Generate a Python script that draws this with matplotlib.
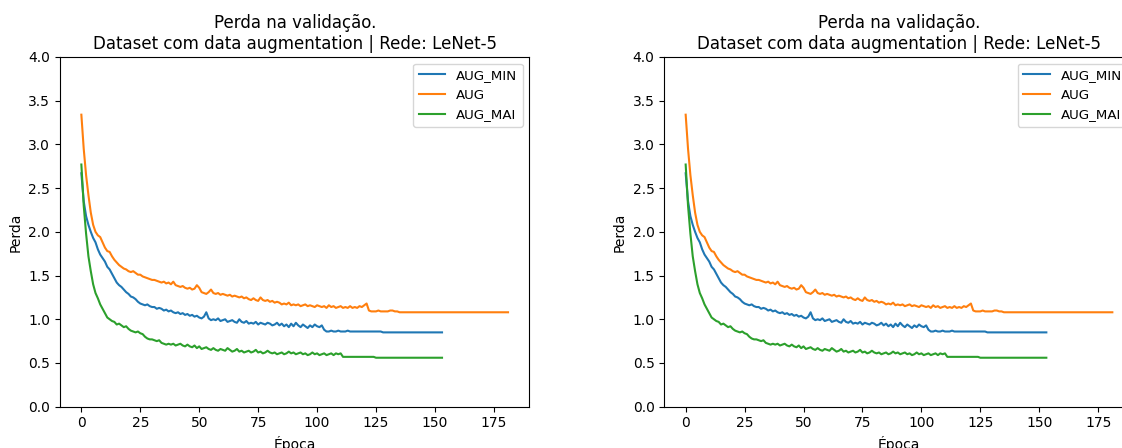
import numpy as np
import matplotlib.pyplot as plt

# validation loss per epoch, LeNet-5 trained on the augmented datasets
aug_min = [
    2.67, 2.35, 2.18, 2.08, 2.00, 1.93, 1.88, 1.80, 1.74, 1.70,
    1.66, 1.60, 1.57, 1.52, 1.47, 1.42, 1.39, 1.37, 1.34, 1.31,
    1.29, 1.26, 1.25, 1.23, 1.20, 1.18, 1.17, 1.16, 1.17, 1.15,
    1.14, 1.14, 1.12, 1.13, 1.12, 1.10, 1.11, 1.09, 1.10, 1.08,
    1.07, 1.08, 1.06, 1.07, 1.05, 1.06, 1.04, 1.05, 1.03, 1.04,
    1.02, 1.01, 1.03, 1.08, 1.01, 0.99, 1.00, 0.99, 1.01, 0.98,
    0.99, 1.00, 0.97, 0.98, 0.99, 0.97, 0.96, 1.00, 0.97, 0.96,
    0.98, 0.95, 0.96, 0.95, 0.97, 0.94, 0.96, 0.95, 0.94, 0.96,
    0.95, 0.93, 0.94, 0.96, 0.93, 0.95, 0.92, 0.94, 0.91, 0.95,
    0.92, 0.96, 0.93, 0.91, 0.94, 0.92, 0.90, 0.93, 0.91, 0.94,
    0.92, 0.91, 0.93, 0.88, 0.86, 0.86, 0.87, 0.86, 0.86, 0.87,
    0.86, 0.86, 0.86, 0.87, 0.86, 0.86, 0.86, 0.86, 0.86, 0.86,
    0.86, 0.86, 0.86, 0.86, 0.86, 0.86, 0.86, 0.86, 0.85, 0.85,
    0.85, 0.85, 0.85, 0.85, 0.85, 0.85, 0.85, 0.85, 0.85, 0.85,
    0.85, 0.85, 0.85, 0.85, 0.85, 0.85, 0.85, 0.85, 0.85, 0.85,
    0.85, 0.85, 0.85, 0.85,
]
aug = [
    3.34, 2.95, 2.65, 2.42, 2.22, 2.08, 2.00, 1.96, 1.94, 1.88,
    1.82, 1.78, 1.77, 1.72, 1.68, 1.65, 1.62, 1.60, 1.58, 1.57,
    1.55, 1.54, 1.55, 1.53, 1.51, 1.51, 1.49, 1.48, 1.47, 1.46,
    1.45, 1.45, 1.44, 1.43, 1.42, 1.43, 1.41, 1.42, 1.40, 1.43,
    1.39, 1.38, 1.37, 1.38, 1.36, 1.35, 1.36, 1.34, 1.35, 1.39,
    1.36, 1.31, 1.30, 1.29, 1.31, 1.34, 1.30, 1.29, 1.30, 1.28,
    1.29, 1.28, 1.27, 1.28, 1.26, 1.27, 1.26, 1.25, 1.26, 1.24,
    1.25, 1.23, 1.22, 1.24, 1.22, 1.21, 1.25, 1.22, 1.21, 1.22,
    1.20, 1.21, 1.19, 1.20, 1.19, 1.17, 1.18, 1.17, 1.19, 1.16,
    1.17, 1.16, 1.17, 1.15, 1.16, 1.17, 1.15, 1.16, 1.15, 1.14,
    1.16, 1.15, 1.14, 1.15, 1.13, 1.16, 1.14, 1.15, 1.13, 1.14,
    1.15, 1.13, 1.14, 1.13, 1.15, 1.13, 1.14, 1.13, 1.15, 1.14,
    1.16, 1.18, 1.10, 1.09, 1.09, 1.09, 1.10, 1.09, 1.09, 1.09,
    1.09, 1.10, 1.10, 1.09, 1.09, 1.08, 1.08, 1.08, 1.08, 1.08,
    1.08, 1.08, 1.08, 1.08, 1.08, 1.08, 1.08, 1.08, 1.08, 1.08,
    1.08, 1.08, 1.08, 1.08, 1.08, 1.08, 1.08, 1.08, 1.08, 1.08,
    1.08, 1.08, 1.08, 1.08, 1.08, 1.08, 1.08, 1.08, 1.08, 1.08,
    1.08, 1.08, 1.08, 1.08, 1.08, 1.08, 1.08, 1.08, 1.08, 1.08,
    1.08, 1.08,
]
aug_mai = [
    2.77, 2.30, 1.98, 1.72, 1.55, 1.40, 1.30, 1.24, 1.17, 1.12,
    1.07, 1.02, 1.00, 0.98, 0.97, 0.94, 0.95, 0.93, 0.91, 0.92,
    0.89, 0.87, 0.86, 0.85, 0.86, 0.84, 0.83, 0.80, 0.78, 0.77,
    0.77, 0.76, 0.75, 0.76, 0.73, 0.72, 0.71, 0.72, 0.71, 0.72,
    0.70, 0.71, 0.72, 0.70, 0.69, 0.71, 0.69, 0.68, 0.70, 0.67,
    0.69, 0.66, 0.67, 0.68, 0.66, 0.65, 0.67, 0.65, 0.64, 0.66,
    0.65, 0.64, 0.67, 0.65, 0.63, 0.64, 0.66, 0.63, 0.64, 0.62,
    0.63, 0.64, 0.62, 0.63, 0.65, 0.62, 0.63, 0.61, 0.62, 0.64,
    0.62, 0.61, 0.62, 0.60, 0.61, 0.62, 0.60, 0.61, 0.63, 0.61,
    0.62, 0.60, 0.61, 0.62, 0.60, 0.61, 0.59, 0.60, 0.62, 0.60,
    0.61, 0.59, 0.60, 0.61, 0.59, 0.60, 0.61, 0.59, 0.61, 0.60,
    0.61, 0.57, 0.57, 0.57, 0.57, 0.57, 0.57, 0.57, 0.57, 0.57,
    0.57, 0.57, 0.57, 0.57, 0.57, 0.56, 0.56, 0.56, 0.56, 0.56,
    0.56, 0.56, 0.56, 0.56, 0.56, 0.56, 0.56, 0.56, 0.56, 0.56,
    0.56, 0.56, 0.56, 0.56, 0.56, 0.56, 0.56, 0.56, 0.56, 0.56,
    0.56, 0.56, 0.56, 0.56,
]

series = [("AUG_MIN", aug_min), ("AUG", aug), ("AUG_MAI", aug_mai)]
titulo = "Perda na validação.\nDataset com data augmentation | Rede: LeNet-5"

fig = plt.figure(figsize=(11.22, 4.48), dpi=100)
# second panel runs past the right edge of the canvas
ax1 = fig.add_axes([0.0535, 0.0922, 0.4183, 0.7806])
ax2 = fig.add_axes([0.5921, 0.0922, 0.4183, 0.7806])

for ax in (ax1, ax2):
    for nome, vals in series:
        ax.plot(np.arange(len(vals)), vals, label=nome)
    ax.set_ylim(0, 4)
    ax.set_yticks(np.arange(0, 4.01, 0.5))
    ax.set_title(titulo)
    ax.set_xlabel("Época")
    ax.set_ylabel("Perda")
    ax.legend(loc="upper right", fontsize=9.6)

fig.savefig("out.png", dpi=100)
